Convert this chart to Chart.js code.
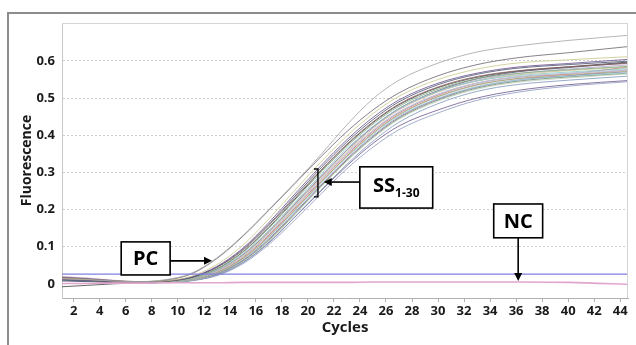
<!DOCTYPE html>
<html>
<head>
<meta charset="utf-8">
<script src="https://cdn.jsdelivr.net/npm/chart.js@4.4.1/dist/chart.umd.min.js"></script>
<style>
  html, body { margin: 0; padding: 0; background: #fff; }
  #wrap { position: relative; width: 636px; height: 345px; overflow: hidden; background: #fff; }
  #frame { position: absolute; left: 7px; top: 12px; width: 700px; height: 400px; border: 2px solid #8c8c8c; box-sizing: border-box; }
  #c { position: absolute; left: 0; top: 0; }
</style>
</head>
<body>
<div id="wrap">
  <div id="frame"></div>
  <canvas id="c" width="636" height="345"></canvas>
</div>
<script>
/* ── data ──────────────────────────────────────────────── */
const cycles = [1, 3, 5, 7, 9, 11, 13, 15, 17, 19, 21, 23, 25, 27, 30, 33, 36, 40, 45];
const xTicks = [2, 4, 6, 8, 10, 12, 14, 16, 18, 20, 22, 24, 26, 28, 30, 32, 34, 36, 38, 40, 42, 44];
const yTicks = [0, 0.1, 0.2, 0.3, 0.4, 0.5, 0.6];

// samples SS1-30 + PC, fluorescence at each cycle above
const ssValues = [
  [0.015,0.012,0.008,0.006,0.011,0.028,0.070,0.130,0.200,0.272,0.348,0.428,0.498,0.548,0.594,0.624,0.640,0.655,0.670],
  [0.018,0.014,0.009,0.006,0.010,0.026,0.068,0.128,0.198,0.270,0.342,0.410,0.468,0.514,0.560,0.590,0.608,0.622,0.640],
  [0.014,0.012,0.008,0.005,0.008,0.020,0.052,0.104,0.175,0.252,0.328,0.398,0.458,0.505,0.550,0.578,0.594,0.603,0.612],
  [0.012,0.010,0.006,0.004,0.007,0.018,0.047,0.096,0.165,0.242,0.318,0.388,0.448,0.495,0.540,0.567,0.583,0.593,0.605],
  [0.010,0.008,0.005,0.004,0.007,0.017,0.045,0.093,0.160,0.236,0.312,0.382,0.442,0.490,0.536,0.564,0.580,0.590,0.600],
  [0.016,0.013,0.008,0.005,0.007,0.017,0.044,0.090,0.157,0.232,0.306,0.376,0.436,0.484,0.530,0.558,0.573,0.584,0.594],
  [0.012,0.010,0.006,0.004,0.006,0.015,0.040,0.085,0.150,0.225,0.300,0.370,0.430,0.478,0.524,0.552,0.566,0.576,0.586],
  [0.010,0.009,0.006,0.004,0.006,0.014,0.038,0.081,0.145,0.219,0.294,0.364,0.424,0.472,0.518,0.546,0.560,0.570,0.580],
  [0.013,0.011,0.007,0.004,0.006,0.014,0.037,0.079,0.142,0.216,0.290,0.360,0.421,0.470,0.518,0.548,0.565,0.578,0.590],
  [0.011,0.009,0.006,0.004,0.005,0.013,0.035,0.076,0.138,0.212,0.286,0.356,0.418,0.468,0.516,0.546,0.562,0.574,0.584],
  [0.008,0.006,0.004,0.003,0.005,0.013,0.036,0.078,0.140,0.214,0.288,0.360,0.422,0.472,0.520,0.552,0.570,0.582,0.596],
  [0.012,0.010,0.006,0.004,0.005,0.012,0.033,0.073,0.134,0.207,0.281,0.351,0.412,0.462,0.510,0.540,0.556,0.567,0.577],
  [0.020,0.016,0.010,0.006,0.006,0.013,0.034,0.074,0.135,0.209,0.283,0.353,0.414,0.463,0.511,0.541,0.557,0.566,0.575],
  [0.015,0.012,0.008,0.005,0.006,0.012,0.032,0.071,0.131,0.204,0.278,0.348,0.410,0.460,0.508,0.540,0.556,0.565,0.585],
  [0.011,0.009,0.006,0.004,0.005,0.011,0.030,0.068,0.127,0.199,0.273,0.343,0.405,0.455,0.504,0.535,0.552,0.563,0.573],
  [0.010,0.008,0.005,0.003,0.004,0.010,0.029,0.066,0.124,0.196,0.270,0.340,0.402,0.452,0.500,0.531,0.548,0.559,0.569],
  [0.009,0.008,0.005,0.003,0.004,0.010,0.028,0.064,0.121,0.192,0.266,0.336,0.398,0.449,0.498,0.530,0.548,0.560,0.572],
  [0.012,0.010,0.006,0.004,0.004,0.010,0.027,0.062,0.118,0.189,0.263,0.333,0.395,0.446,0.495,0.527,0.545,0.557,0.568],
  [0.014,0.011,0.007,0.004,0.004,0.009,0.026,0.060,0.115,0.186,0.260,0.330,0.392,0.443,0.492,0.524,0.542,0.554,0.566],
  [0.010,0.008,0.005,0.003,0.004,0.009,0.024,0.057,0.110,0.180,0.252,0.322,0.384,0.435,0.485,0.518,0.536,0.548,0.560],
  [0.011,0.009,0.005,0.003,0.004,0.009,0.024,0.058,0.112,0.180,0.250,0.318,0.378,0.425,0.468,0.500,0.520,0.536,0.548],
  [0.010,0.008,0.005,0.003,0.003,0.008,0.022,0.054,0.106,0.172,0.242,0.310,0.368,0.415,0.460,0.494,0.515,0.532,0.545],
  [-0.008,-0.004,0.000,0.003,0.006,0.015,0.040,0.086,0.152,0.228,0.304,0.374,0.434,0.482,0.528,0.556,0.572,0.584,0.598],
  [0.019,0.015,0.009,0.005,0.005,0.011,0.030,0.068,0.127,0.200,0.274,0.344,0.406,0.456,0.504,0.536,0.552,0.560,0.578]
];
const ssColors = [
  '#a6a6a6', '#6e6470', '#c9c98a', '#6a4d8a', '#4a5470', '#8a5f5f',
  '#7faa7f', '#8cc6c6', '#b4a6d2', '#d2c08a', '#55556a', '#a8cce0',
  '#d8b0cc', '#c86a6a', '#a8b474', '#9ad6dc', '#8a6aa8', '#6a886a',
  '#c2d0ba', '#8098bc', '#6c5a8c', '#8e9cc2', '#444444', '#bc78a0'
];

// negative control and threshold
const ncValues = [0.001,0.001,0.002,0.002,0.003,0.003,0.003,0.004,0.004,0.004,0.004,0.004,0.005,0.005,0.005,0.005,0.005,0.004,-0.002];
const threshold = 0.026;

// callout boxes (data coordinates)
const callouts = [
  { text: 'PC', sub: '',     box: [5.65, 0.113, 9.41, 0.024],   from: [9.41, 0.062],  to: [12.63, 0.062] },
  { text: 'SS', sub: '1-30', box: [23.99, 0.315, 29.59, 0.204], from: [23.99, 0.274], to: [21.22, 0.274], bracket: [20.77, 0.309, 0.234] },
  { text: 'NC', sub: '',     box: [34.28, 0.215, 38.04, 0.124], from: [36.16, 0.124], to: [36.16, 0.008] }
];

/* ── chart ─────────────────────────────────────────────── */
const FONT = '"Open Sans", "DejaVu Sans", sans-serif';
const toPts = vals => vals.map((v, i) => ({ x: cycles[i], y: v }));

const datasets = ssValues.map((vals, i) => ({
  data: toPts(vals),
  borderColor: ssColors[i] + 'd0',
  borderWidth: 1
}));
datasets.unshift({
  data: [{ x: cycles[0], y: threshold }, { x: cycles[cycles.length - 1], y: threshold }],
  borderColor: '#8080e0',
  borderWidth: 1.2
});
datasets.unshift({
  data: toPts(ncValues),
  borderColor: '#e0a6cc',
  borderWidth: 1.6
});

function arrow(ctx, x1, y1, x2, y2) {
  const a = Math.atan2(y2 - y1, x2 - x1);
  const hl = 8, hw = 4;
  ctx.beginPath();
  ctx.moveTo(x1, y1);
  ctx.lineTo(x2 - hl * Math.cos(a), y2 - hl * Math.sin(a));
  ctx.stroke();
  ctx.beginPath();
  ctx.moveTo(x2, y2);
  ctx.lineTo(x2 - hl * Math.cos(a) + hw * Math.sin(a), y2 - hl * Math.sin(a) - hw * Math.cos(a));
  ctx.lineTo(x2 - hl * Math.cos(a) - hw * Math.sin(a), y2 - hl * Math.sin(a) + hw * Math.cos(a));
  ctx.closePath();
  ctx.fill();
}

const calloutPlugin = {
  id: 'callouts',
  afterDatasetsDraw(chart) {
    const { ctx, scales: { x, y }, chartArea: ca } = chart;
    // light plot border (top / right)
    ctx.save();
    ctx.strokeStyle = '#d4d4d4';
    ctx.lineWidth = 1;
    ctx.beginPath();
    ctx.moveTo(ca.left, ca.top + 0.5);
    ctx.lineTo(ca.right - 0.5, ca.top + 0.5);
    ctx.lineTo(ca.right - 0.5, ca.bottom);
    ctx.stroke();

    ctx.strokeStyle = '#000';
    ctx.fillStyle = '#000';
    ctx.lineWidth = 1.6;
    callouts.forEach(c => {
      const bx1 = x.getPixelForValue(c.box[0]), by1 = y.getPixelForValue(c.box[1]);
      const bx2 = x.getPixelForValue(c.box[2]), by2 = y.getPixelForValue(c.box[3]);
      arrow(ctx, x.getPixelForValue(c.from[0]), y.getPixelForValue(c.from[1]),
                 x.getPixelForValue(c.to[0]), y.getPixelForValue(c.to[1]));
      ctx.fillStyle = '#fff';
      ctx.fillRect(bx1, by1, bx2 - bx1, by2 - by1);
      ctx.strokeRect(bx1, by1, bx2 - bx1, by2 - by1);
      ctx.fillStyle = '#000';
      const cx = (bx1 + bx2) / 2, cy = (by1 + by2) / 2;
      ctx.font = 'bold 20px ' + FONT;
      ctx.textBaseline = 'middle';
      if (c.sub) {
        ctx.textAlign = 'left';
        const w1 = ctx.measureText(c.text).width;
        ctx.font = 'bold 12px ' + FONT;
        const w2 = ctx.measureText(c.sub).width;
        const sx = cx - (w1 + w2) / 2;
        ctx.font = 'bold 20px ' + FONT;
        ctx.fillText(c.text, sx, cy - 1);
        ctx.font = 'bold 12px ' + FONT;
        ctx.fillText(c.sub, sx + w1, cy + 6);
      } else {
        ctx.textAlign = 'center';
        ctx.fillText(c.text, cx, cy + 1);
      }
      if (c.bracket) {
        const bx = x.getPixelForValue(c.bracket[0]);
        const t = y.getPixelForValue(c.bracket[1]), b = y.getPixelForValue(c.bracket[2]);
        ctx.lineWidth = 1.4;
        ctx.beginPath();
        ctx.moveTo(bx - 4, t); ctx.lineTo(bx, t); ctx.lineTo(bx, b); ctx.lineTo(bx - 4, b);
        ctx.stroke();
        ctx.lineWidth = 1.6;
      }
    });
    ctx.restore();
  }
};

new Chart(document.getElementById('c'), {
  type: 'line',
  data: { datasets },
  options: {
    responsive: false,
    animation: false,
    events: [],
    layout: { padding: { left: 0, top: 23, right: 8, bottom: 0 } },
    elements: {
      point: { radius: 0 },
      line: { cubicInterpolationMode: 'monotone', fill: false }
    },
    plugins: { legend: { display: false }, tooltip: { enabled: false } },
    scales: {
      x: {
        type: 'linear',
        min: 1.1,
        max: 44.6,
        afterBuildTicks: s => { s.ticks = xTicks.map(v => ({ value: v })); },
        afterFit: s => { s.height = 47; },
        grid: { drawOnChartArea: false, drawTicks: true, tickLength: 4, color: '#b0b0b0' },
        border: { color: '#b0b0b0', width: 1 },
        ticks: { color: '#1a1a1a', padding: 1, maxRotation: 0, autoSkip: false, font: { family: FONT, size: 13, weight: 'bold' } },
        title: { display: true, text: 'Cycles', color: '#1a1a1a', padding: { top: 0, bottom: 8 }, font: { family: FONT, size: 15, weight: 'bold' } }
      },
      y: {
        type: 'linear',
        min: -0.038,
        max: 0.702,
        afterBuildTicks: s => { s.ticks = yTicks.map(v => ({ value: v })); },
        afterFit: s => { s.width = 62; },
        grid: {
          drawTicks: false,
          color: c => (c.tick && c.tick.value === 0) ? 'rgba(0,0,0,0)' : '#cfcfcf',
          lineWidth: 1
        },
        border: { color: '#c8c8c8', width: 1, dash: [2, 2] },
        ticks: {
          color: '#1a1a1a', padding: 7,
          font: { family: FONT, size: 13, weight: 'bold' },
          callback: v => v === 0 ? '0' : v.toFixed(1)
        },
        title: { display: true, text: 'Fluorescence', color: '#1a1a1a', padding: { top: 19, bottom: 0 }, font: { family: FONT, size: 14, weight: 'bold' } }
      }
    }
  },
  plugins: [calloutPlugin]
});
</script>
</body>
</html>
